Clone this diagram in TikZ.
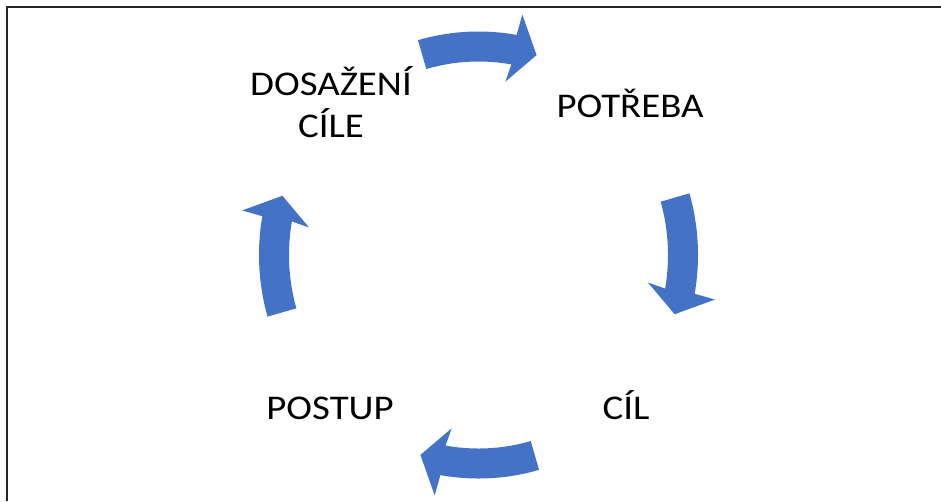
\documentclass[tikz,border=0pt]{standalone}
\usepackage{fontspec}
\setmainfont[FakeStretch=1.12]{Carlito}
\begin{document}
\begin{tikzpicture}[x=0.75pt,y=-0.75pt,
  label/.style={font=\fontsize{26}{31.5}\selectfont, text=black, inner sep=0pt, align=center},
  cyclearrow/.style={fill=arrowblue, draw=none}]
\definecolor{arrowblue}{HTML}{4472C4}
\useasboundingbox (0,0) rectangle (941,501);
\fill[white] (0,0) rectangle (941,501);
% frame: top and left edges only
\draw[black!85, line width=1.2pt] (941,7) -- (7,7) -- (7,501);

% cycle geometry (centre and radii of the ring)
\def\cx{478.5}\def\cy{255}\def\rx{204.5}\def\ry{208.5}
% one curved block arrow, centred on angle #1, running clockwise
\newcommand{\ringarrow}[1]{%
  \pgfmathsetmacro{\ta}{#1-16}%
  \pgfmathsetmacro{\hb}{#1+10}%
  \pgfmathsetmacro{\ho}{#1+10.5}%
  \pgfmathsetmacro{\hi}{#1+9}%
  \pgfmathsetmacro{\tp}{#1+16.5}%
  \fill[cyclearrow]
    plot[domain=\ta:\hb, samples=40] ({\cx+(\rx+15)*cos(\x)},{\cy+(\ry+15)*sin(\x)})
    -- ({\cx+(\rx+36)*cos(\ho)},{\cy+(\ry+36)*sin(\ho)})
    -- ({\cx+\rx*cos(\tp)},{\cy+\ry*sin(\tp)})
    -- ({\cx+(\rx-33)*cos(\hi)},{\cy+(\ry-33)*sin(\hi)})
    -- plot[domain=\hb:\ta, samples=40] ({\cx+(\rx-15)*cos(\x)},{\cy+(\ry-15)*sin(\x)})
    -- cycle;}
\ringarrow{-90}
\ringarrow{0}
\ringarrow{90}
\ringarrow{180}

% stage labels
\node[label, anchor=base] (goal) at (331,137) {DOSAŽENÍ\\CÍLE};
\node[label, anchor=base] (need) at (630,117) {POTŘEBA};
\node[label, anchor=base] (aim) at (626,419) {CÍL};
\node[label, anchor=base] (path) at (330,419) {POSTUP};
\end{tikzpicture}
\end{document}
